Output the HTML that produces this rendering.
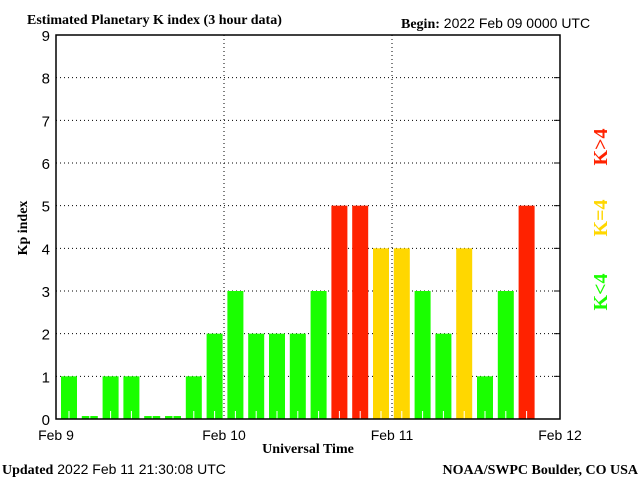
<!DOCTYPE html>
<html><head><meta charset="utf-8"><style>
body{margin:0;background:#fff}
svg text{font-family:"Liberation Sans",sans-serif}
.s{font-family:"Liberation Serif",serif;font-weight:bold}
</style></head><body>
<svg id="c" width="640" height="480" xmlns="http://www.w3.org/2000/svg">
<rect width="640" height="480" fill="#fff"/>
<text class="s" x="27" y="24" font-size="14">Estimated Planetary K index (3 hour data)</text>
<text x="401" y="28" font-size="14"><tspan class="s">Begin:</tspan> 2022 Feb 09 0000 UTC</text>
<g id="grid"></g>
<g id="bars"></g>
<rect x="56" y="35" width="504" height="384" fill="none" stroke="#000" stroke-width="1.5"/>
<g id="yt"></g>
<g id="xt"></g>
<text class="s" x="27" y="228" font-size="14" transform="rotate(-90 27 228)" text-anchor="middle">Kp index</text>
<text class="s" x="308" y="453" font-size="14" text-anchor="middle">Universal Time</text>
<text x="2" y="474" font-size="14"><tspan class="s">Updated</tspan> 2022 Feb 11 21:30:08 UTC</text>
<text class="s" x="638" y="474" font-size="14" text-anchor="end">NOAA/SWPC Boulder, CO USA</text>
<text class="s" x="607" y="147" font-size="20" fill="#ff2200" text-anchor="middle" transform="rotate(-90 607 147)" font-weight="normal">K&gt;4</text>
<text class="s" x="607" y="218" font-size="20" fill="#ffd700" text-anchor="middle" transform="rotate(-90 607 218)" font-weight="normal">K=4</text>
<text class="s" x="607" y="292" font-size="20" fill="#1aff00" text-anchor="middle" transform="rotate(-90 607 292)" font-weight="normal">K&lt;4</text>
</svg>
<script>
const kpValues=[1,0,1,1,0,0,1,2,3,2,2,2,3,5,5,4,4,3,2,4,1,3,5];
const yTicks=[0,1,2,3,4,5,6,7,8,9];
const dayLabels=["Feb 9","Feb 10","Feb 11","Feb 12"];
const NS="http://www.w3.org/2000/svg";
const X0=56,X1=560,Y0=419,Y9=35;
const y=v=>Y0-(Y0-Y9)*v/9;
const x=i=>X0+5+i*20.8;
function mk(t,a,p){const e=document.createElementNS(NS,t);for(const k in a)e.setAttribute(k,a[k]);p.appendChild(e);return e;}
const grid=document.getElementById('grid'),bars=document.getElementById('bars'),yt=document.getElementById('yt'),xt=document.getElementById('xt');
yTicks.forEach(v=>{
  if(v>0&&v<9){const l=mk('line',{x1:X0,x2:X1,y1:y(v),y2:y(v),stroke:'#000','stroke-dasharray':'1 3'},grid);
  
  
  const r=mk('line',{x1:X1-6,x2:X1,y1:y(v),y2:y(v),stroke:'#000'},grid);
  
  }
  const t=mk('text',{x:50,y:y(v)+6,'font-size':15,'text-anchor':'end'},yt);t.textContent=v;
  
  
});
dayLabels.forEach((d,i)=>{
  const xx=X0+(X1-X0)*i/(dayLabels.length-1);
  if(i>0&&i<dayLabels.length-1){const l=mk('line',{x1:xx,x2:xx,y1:Y9,y2:Y0,stroke:'#000','stroke-dasharray':'1 3'},grid);
  
  }
  const t=mk('text',{x:xx,y:440,'font-size':14,'text-anchor':'middle'},xt);t.textContent=d;
  
  
});
kpValues.forEach((v,i)=>{
  const c=v<4?'#1aff00':(v==4?'#ffd700':'#ff2200');
  const top=v>0?y(v):Y0-3;
  const r=mk('rect',{x:x(i),y:top,width:16,height:Y0-top,fill:c},bars);
  
  
  const m=mk('line',{x1:x(i)+8,x2:x(i)+8,y1:Y0-8,y2:Y0,stroke:'#fff'},bars);
  
  
});
</script>
</body></html>
